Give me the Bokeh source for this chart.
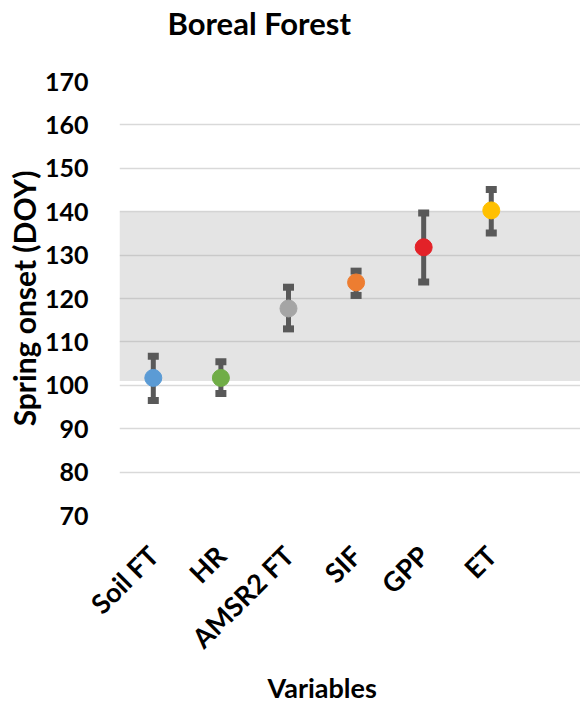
import math
from bokeh.plotting import figure
from bokeh.models import Range1d, FixedTicker, Title
from bokeh.embed import file_html
from bokeh.resources import INLINE

# ---- data ----
categories = ["Soil FT", "HR", "AMSR2 FT", "SIF", "GPP", "ET"]
onset = [101.7, 101.7, 117.7, 123.7, 131.8, 140.3]
err_low = [96.5, 98.1, 113.0, 120.7, 123.8, 135.1]
err_high = [106.7, 105.4, 122.6, 126.3, 139.7, 145.1]
colors = ["#5B9BD5", "#70AD47", "#A5A5A5", "#ED7D31", "#E32228", "#FFC000"]
band_low = 101.0
band_high = 140.0
y_ticks = [70, 80, 90, 100, 110, 120, 130, 140, 150, 160, 170]

xpos = list(range(len(categories)))
FONT = "Lato"

x_range = Range1d(-0.5, 6.32)
y_range = Range1d(y_ticks[0], y_ticks[-1])

p = figure(width=580, height=703, x_range=x_range, y_range=y_range,
           output_backend="svg", toolbar_location=None,
           min_border_left=119, min_border_right=0,
           min_border_top=81, min_border_bottom=188,
           outline_line_color=None, background_fill_color="white",
           border_fill_color="white")

# title (outermost) + small spacer title between it and the plot
p.title.text = "Boreal Forest"
p.title.align = "left"
p.title.offset = 48
p.title.text_font = FONT
p.title.text_font_size = "31px"
p.title.text_font_style = "bold"
p.title.text_color = "black"
p.title.standoff = 0
p.add_layout(Title(text=" ", text_font_size="10px", standoff=27), "above")

# grid
p.xgrid.visible = False
p.ygrid.ticker = FixedTicker(ticks=y_ticks)
p.ygrid.grid_line_color = "#D9D9D9"
p.ygrid.grid_line_width = 1.5

# shaded band (semi transparent over the grid lines)
p.quad(left=[x_range.start], right=[x_range.end], bottom=[band_low], top=[band_high],
       fill_color="#A6A6A6", fill_alpha=0.3, line_color=None)

# error bars
p.segment(x0=xpos, y0=err_low, x1=xpos, y1=err_high, line_color="#595959", line_width=5)
p.rect(x=xpos + xpos, y=err_low + err_high, width=11, height=7,
       width_units="screen", height_units="screen",
       fill_color="#595959", line_color=None)

# points
p.scatter(x=xpos, y=onset, size=17, fill_color=colors, line_color=colors)

# y axis
ya = p.yaxis[0]
ya.ticker = FixedTicker(ticks=y_ticks)
ya.axis_line_color = None
ya.major_tick_line_color = None
ya.minor_tick_line_color = None
ya.major_label_standoff = 25
ya.major_label_text_font = FONT
ya.major_label_text_font_style = "bold"
ya.major_label_text_font_size = "25px"
ya.major_label_text_color = "black"
ya.axis_label = "Spring onset (DOY)"
ya.axis_label_text_font = FONT
ya.axis_label_text_font_style = "bold"
ya.axis_label_text_font_size = "30px"
ya.axis_label_text_color = "black"
ya.axis_label_standoff = 0

# x axis
xa = p.xaxis[0]
xa.ticker = FixedTicker(ticks=xpos)
xa.major_label_overrides = {i: c for i, c in zip(xpos, categories)}
xa.major_label_orientation = math.pi / 4
xa.axis_line_color = None
xa.major_tick_line_color = None
xa.minor_tick_line_color = None
xa.major_label_standoff = 29
xa.major_label_text_font = FONT
xa.major_label_text_font_style = "bold"
xa.major_label_text_font_size = "27px"
xa.major_label_text_color = "black"

p.add_layout(Title(text="Variables", align="left", offset=148,
                   text_font=FONT, text_font_size="27px", text_font_style="bold",
                   text_color="black", standoff=0), "below")

open("out.html", "w").write(file_html(p, INLINE))
